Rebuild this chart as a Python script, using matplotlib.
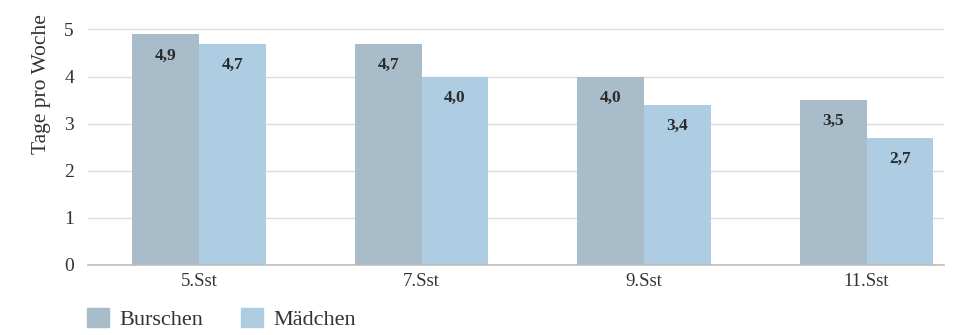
import matplotlib.pyplot as plt
import numpy as np
from matplotlib.patches import Patch

plt.rcParams['font.family'] = ['Liberation Serif', 'DejaVu Serif']

klassen = ['5.Sst', '7.Sst', '9.Sst', '11.Sst']
burschen = [4.9, 4.7, 4.0, 3.5]
maedchen = [4.7, 4.0, 3.4, 2.7]

c_burschen = '#a9bcc9'
c_maedchen = '#aecde2'

fig = plt.figure(figsize=(9.54, 3.35), dpi=100)
ax = fig.add_axes([0.092, 0.209, 0.898, 0.71])

x = np.arange(len(klassen))
w = 0.30
b1 = ax.bar(x - w / 2, burschen, w, color=c_burschen, zorder=2)
b2 = ax.bar(x + w / 2, maedchen, w, color=c_maedchen, zorder=2)

# Werte knapp unter der Balkenoberkante
for bars, vals in ((b1, burschen), (b2, maedchen)):
    for r, v in zip(bars, vals):
        ax.text(r.get_x() + r.get_width() / 2, v - 0.45,
                ('%.1f' % v).replace('.', ','), ha='center', va='center',
                fontsize=12.5, fontweight='bold', color='#2b2b2b', zorder=3)

ax.set_ylim(0, 5.05)
ax.set_xlim(-0.5, 3.35)
ax.set_yticks([0, 1, 2, 3, 4, 5])
ax.set_xticks(x)
ax.set_xticklabels(klassen, fontsize=13.5, color='#333333')
ax.tick_params(axis='y', labelsize=14, colors='#333333', length=0, pad=10)
ax.tick_params(axis='x', length=0, pad=6)
ax.grid(axis='y', color='#dcdcdc', linewidth=1, zorder=0)
for s in ['top', 'right', 'left']:
    ax.spines[s].set_visible(False)
ax.spines['bottom'].set_color('#bdbdbd')
ax.spines['bottom'].set_linewidth(1.2)
ax.set_ylabel('Tage pro Woche', fontsize=15.5, color='#333333')
ax.yaxis.set_label_coords(-0.043, 0.76)

handles = [Patch(color=c_burschen, label='Burschen'),
           Patch(color=c_maedchen, label='Mädchen')]
fig.legend(handles=handles, loc='lower left', bbox_to_anchor=(0.07, -0.045),
           ncol=2, frameon=False, fontsize=16, handlelength=1.0,
           handleheight=1.0, handletextpad=0.45, columnspacing=1.7,
           labelcolor='#333333')

fig.savefig('out.png', dpi=100)
